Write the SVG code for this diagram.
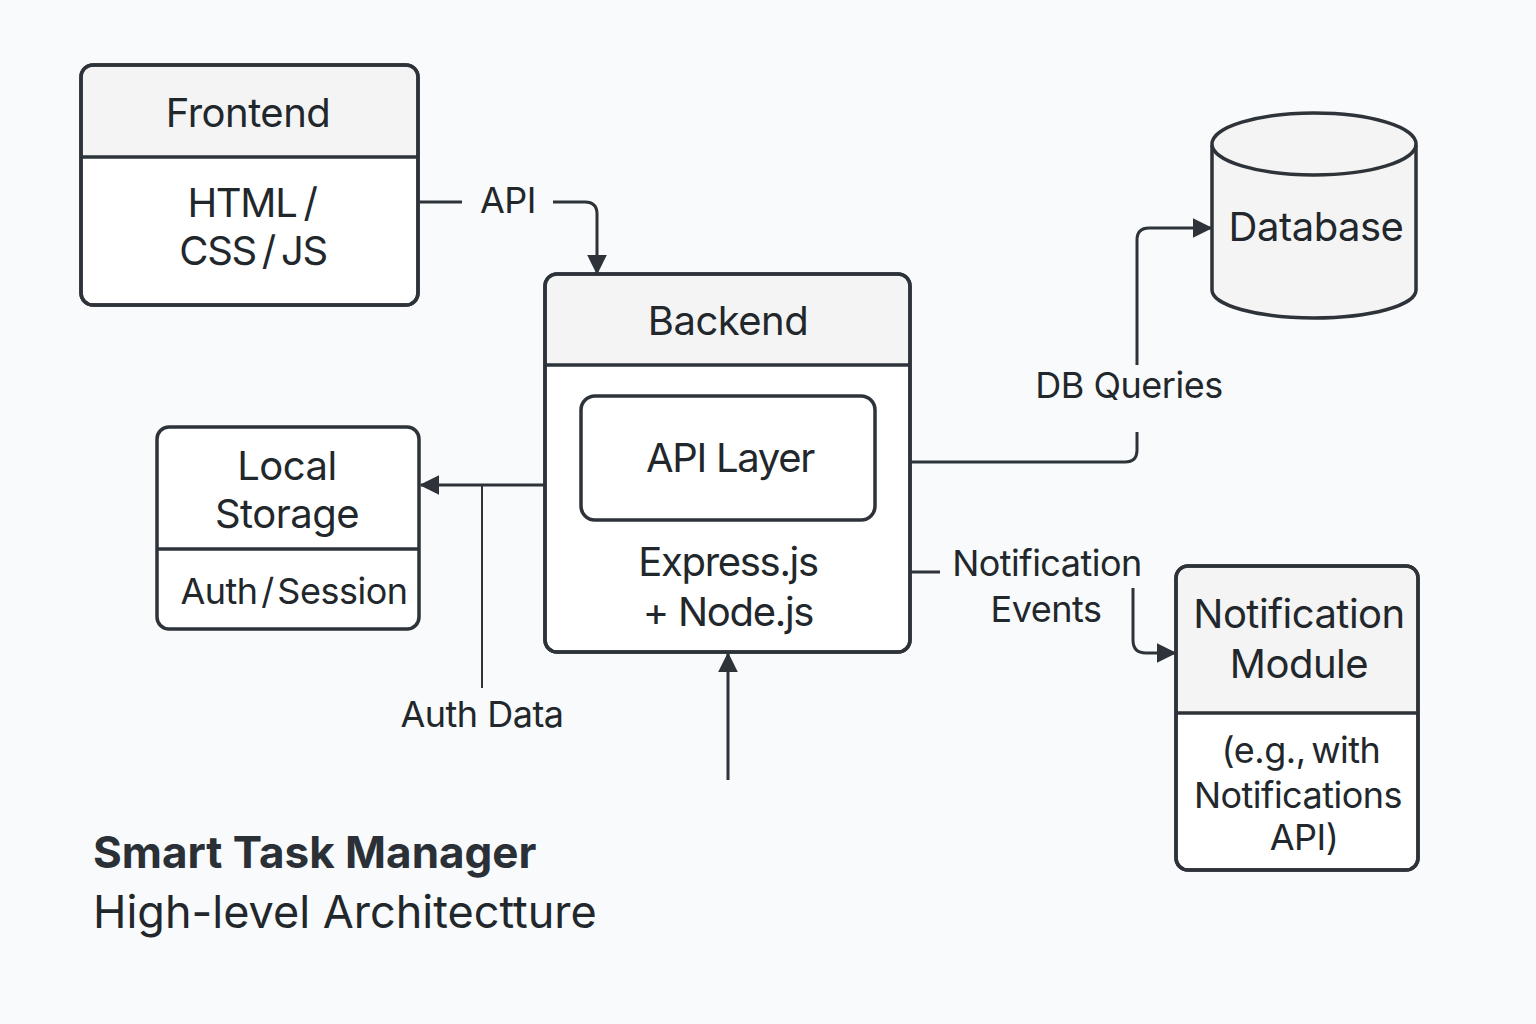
<svg xmlns="http://www.w3.org/2000/svg" width="1536" height="1024" viewBox="0 0 1536 1024">
<defs>
<marker id="arrow" viewBox="0 0 12 12" refX="11" refY="6" markerWidth="20" markerHeight="20" markerUnits="userSpaceOnUse" orient="auto">
<path d="M0,0 L12,6 L0,12 z" fill="#2d3339"/>
</marker>
<style>
.box{fill:#ffffff;stroke:#2d3339;stroke-width:3.5}
.hdr{fill:#f4f4f4}
.div{stroke:#2d3339;stroke-width:3.5}
.t{font-family:Inter,"Liberation Sans",sans-serif;fill:#22272c;font-size:40px;text-anchor:middle;letter-spacing:-0.5px}
.c{letter-spacing:-1.3px}
.lbl{font-family:Inter,"Liberation Sans",sans-serif;fill:#22272c;font-size:36px;text-anchor:middle;letter-spacing:-0.5px}
.ln{fill:none;stroke:#2d3339;stroke-width:3}
.thin{fill:none;stroke:#2d3339;stroke-width:2}
</style>
</defs>
<rect width="1536" height="1024" fill="#f8fafb"/>

<g id="connectors">
<path class="ln" d="M418,202 H462"/>
<path class="ln" d="M553,202 H585 Q597,202 597,214 V273" marker-end="url(#arrow)"/>
<path class="ln" d="M545,485 H421" marker-end="url(#arrow)"/>
<path class="thin" d="M482,485 V688"/>
<path class="ln" d="M728,780 V654" marker-end="url(#arrow)"/>
<path class="ln" d="M910,462 H1125 Q1137,462 1137,450 V432"/>
<path class="ln" d="M1137,365 V240 Q1137,228 1149,228 H1211" marker-end="url(#arrow)"/>
<path class="ln" d="M910,572 H940"/>
<path class="ln" d="M1133,588 V640 Q1133,653 1146,653 H1175" marker-end="url(#arrow)"/>
<text class="lbl" x="508" y="213">API</text>
<text class="lbl" x="1129" y="398">DB Queries</text>
<text class="lbl" x="1047" y="576">Notification</text>
<text class="lbl" x="1046" y="622">Events</text>
<text class="lbl" x="482" y="727">Auth Data</text>
</g>

<g id="frontend">
<rect class="box" x="81" y="65" width="337" height="240" rx="12"/>
<path class="hdr" d="M83,157 V77 Q83,67 93,67 H406 Q416,67 416,77 V157 z"/>
<line class="div" x1="81" y1="157" x2="418" y2="157"/>
<rect x="81" y="65" width="337" height="240" rx="12" fill="none" stroke="#2d3339" stroke-width="3.5"/>
<text class="t" x="248" y="127">Frontend</text>
<text class="t c" x="252" y="217" word-spacing="-3">HTML /</text>
<text class="t c" x="253" y="265" word-spacing="-4">CSS / JS</text>
</g>

<g id="backend">
<rect class="box" x="545" y="274" width="365" height="378" rx="12"/>
<path class="hdr" d="M547,365 V286 Q547,276 557,276 H898 Q908,276 908,286 V365 z"/>
<line class="div" x1="545" y1="365" x2="910" y2="365"/>
<rect x="545" y="274" width="365" height="378" rx="12" fill="none" stroke="#2d3339" stroke-width="3.5"/>
<text class="t" x="728" y="335">Backend</text>
<text class="t c" x="728" y="576">Express.js</text>
<text class="t c" x="728" y="626">+ Node.js</text>
</g>

<g id="api-layer">
<rect class="box" x="581" y="396" width="294" height="124" rx="14"/>
<text class="t c" x="730" y="472">API Layer</text>
</g>

<g id="local-storage">
<rect class="box" x="157" y="427" width="262" height="202" rx="12"/>
<line class="div" x1="157" y1="549" x2="419" y2="549"/>
<text class="t" x="287" y="480">Local</text>
<text class="t" x="287" y="528">Storage</text>
<text class="lbl c" x="294" y="604" word-spacing="-6">Auth / Session</text>
</g>

<g id="database">
<path d="M1212,145 V290 A102,28 0 0 0 1416,290 V145" fill="#f4f4f4" stroke="#2d3339" stroke-width="3.5"/>
<ellipse cx="1314" cy="144" rx="102" ry="31" fill="#f4f4f4" stroke="#2d3339" stroke-width="3.5"/>
<text class="t" x="1316" y="241">Database</text>
</g>

<g id="notification">
<rect class="box" x="1176" y="566" width="242" height="304" rx="12"/>
<path class="hdr" d="M1178,713 V578 Q1178,568 1188,568 H1406 Q1416,568 1416,578 V713 z"/>
<line class="div" x1="1176" y1="713" x2="1418" y2="713"/>
<rect x="1176" y="566" width="242" height="304" rx="12" fill="none" stroke="#2d3339" stroke-width="3.5"/>
<text class="t" x="1299" y="628">Notification</text>
<text class="t" x="1299" y="678">Module</text>
<text class="lbl" x="1301" y="763" letter-spacing="-1.3" word-spacing="-4">(e.g., with</text>
<text class="lbl" x="1298" y="808" letter-spacing="-1.4">Notifications</text>
<text class="lbl" x="1304" y="850" letter-spacing="-1">API)</text>
</g>

<g id="title">
<text x="93" y="868" font-family="Inter,'Liberation Sans',sans-serif" font-size="44" font-weight="700" fill="#2a3036">Smart Task Manager</text>
<text x="93" y="928" font-family="Inter,'Liberation Sans',sans-serif" font-size="45" fill="#22272c">High-level Architectture</text>
</g>
</svg>
